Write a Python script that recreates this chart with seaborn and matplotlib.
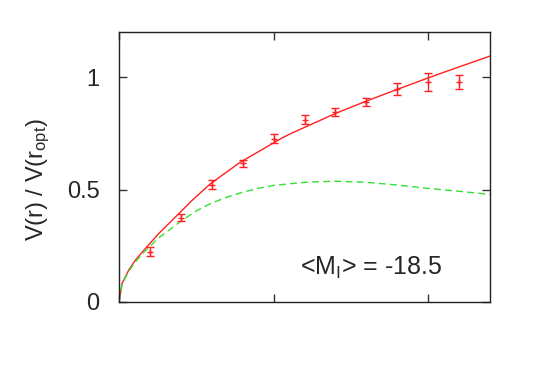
import matplotlib
matplotlib.use("Agg")
import matplotlib.pyplot as plt
import seaborn as sns
import pandas as pd

# observed points (r / r_opt, V / V_opt, error)
r_obs = [0.2, 0.4, 0.6, 0.8, 1.0, 1.2, 1.4, 1.6, 1.8, 2.0, 2.2]
v_obs = [0.223, 0.375, 0.522, 0.616, 0.726, 0.811, 0.846, 0.888, 0.945, 0.978, 0.978]
v_err = [0.020, 0.015, 0.020, 0.015, 0.020, 0.018, 0.018, 0.018, 0.027, 0.038, 0.030]

# model curve (solid red)
r_model = [0.0, 0.02, 0.063, 0.106, 0.171, 0.257, 0.386, 0.472, 0.59, 0.784,
           1.042, 1.1, 1.4, 1.6, 1.8, 2.0, 2.2, 2.4]
v_model = [0.0, 0.083, 0.142, 0.186, 0.238, 0.304, 0.392, 0.451, 0.525, 0.621,
           0.724, 0.745, 0.838, 0.893, 0.945, 0.996, 1.045, 1.093]

# disk-like component (dashed green)
r_disk = [0.0, 0.02, 0.063, 0.106, 0.171, 0.257, 0.408, 0.5, 0.6, 0.7, 0.8,
          0.9, 1.0, 1.2, 1.4, 1.6, 1.8, 2.0, 2.2, 2.4]
v_disk = [0.0, 0.08, 0.137, 0.178, 0.228, 0.285, 0.363, 0.405, 0.440, 0.466, 0.488,
          0.505, 0.518, 0.532, 0.537, 0.532, 0.520, 0.505, 0.492, 0.478]

sns.set_theme(style="ticks")
plt.rcParams["font.family"] = ["Liberation Sans", "DejaVu Sans"]
plt.rcParams["mathtext.fontset"] = "custom"
plt.rcParams["mathtext.rm"] = "Liberation Sans"
plt.rcParams["mathtext.it"] = "Liberation Sans"

fig = plt.figure(figsize=(5.34, 3.82), dpi=100)
ax = fig.add_axes([119 / 534, 1 - 302 / 382, (490 - 119) / 534, (302 - 32) / 382])

model = pd.DataFrame({"r": r_model, "v": v_model})
disk = pd.DataFrame({"r": r_disk, "v": v_disk})
sns.lineplot(data=model, x="r", y="v", ax=ax, color="#ff2020", linewidth=1.0, sort=False)
sns.lineplot(data=disk, x="r", y="v", ax=ax, color="#33e033", linewidth=1.0,
             linestyle=(0, (5, 3)), sort=False)
ax.errorbar(r_obs, v_obs, yerr=v_err, fmt="+", color="#ff2020", markersize=5,
            elinewidth=1.0, capsize=3, capthick=1.0)

ax.set_xlim(0, 2.4)
ax.set_ylim(0, 1.2)
ax.set_xticks([0, 1, 2])
ax.set_xticklabels([])
ax.set_yticks([0, 0.5, 1])
ax.set_yticklabels(["0", "0.5", "1"])
ax.tick_params(direction="in", length=6, width=1.0, top=True, right=True,
               labelsize=17, color="#333333", pad=14)
for s in ax.spines.values():
    s.set_linewidth(1.0)
    s.set_color("#222222")

ax.set_xlabel("")
ax.set_ylabel(r"V(r) / V(r$_{\rm opt}$)", fontsize=17)
ax.yaxis.set_label_coords(-0.18, 0.455)
ax.text(1.17, 0.12, r"<M$_{\rm I}$> = -18.5", fontsize=18, ha="left", va="baseline")

fig.savefig("out.png", dpi=100)
